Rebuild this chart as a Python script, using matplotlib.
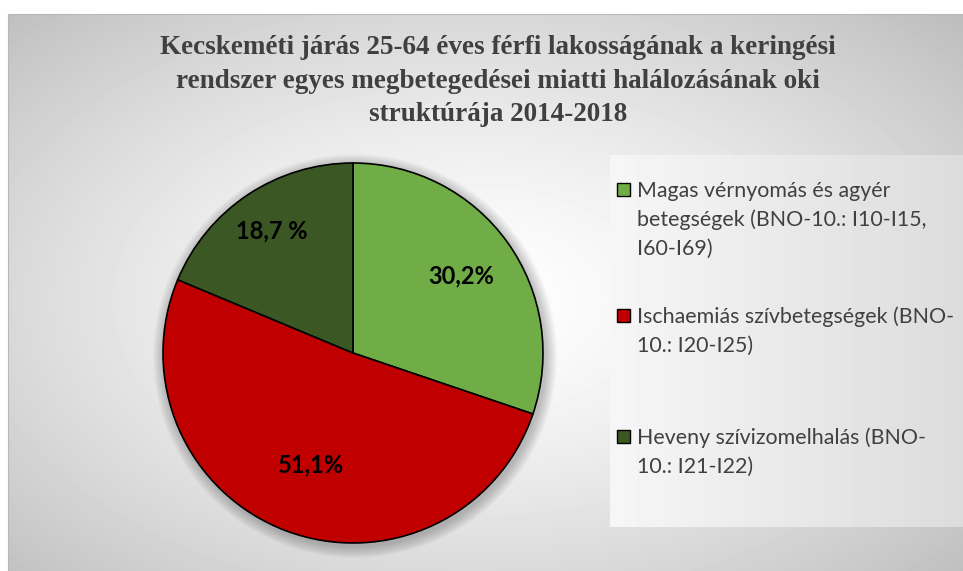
import numpy as np
import matplotlib
matplotlib.use('Agg')
import matplotlib.pyplot as plt
from matplotlib.patches import Circle, Rectangle

# data
labels = ['Magas vérnyomás és agyér\nbetegségek (BNO-10.: I10-I15,\nI60-I69)',
          'Ischaemiás szívbetegségek (BNO-\n10.: I20-I25)',
          'Heveny szívizomelhalás (BNO-\n10.: I21-I22)']
values = [30.2, 51.1, 18.7]
pct_labels = ['30,2%', '51,1%', '18,7 %']
colors = ['#70ad47', '#c00000', '#3a5724']
title = ('Kecskeméti járás 25-64 éves férfi lakosságának a keringési\n'
         'rendszer egyes megbetegedései miatti halálozásának oki\n'
         'struktúrája 2014-2018')

W, H = 963, 571
fig = plt.figure(figsize=(W / 100, H / 100), dpi=100)
fig.patch.set_facecolor('white')

# background axes in pixel coords
bg = fig.add_axes([0, 0, 1, 1], zorder=-1)
bg.set_xlim(0, W); bg.set_ylim(H, 0); bg.axis('off')
x0, y0 = 8, 14
xx, yy = np.meshgrid(np.arange(x0, W), np.arange(y0, H))
d = np.sqrt(((xx - 470) / 480.0) ** 2 + ((yy - 300) / 290.0) ** 2) / np.sqrt(2)
grad = 255 - 66 * np.clip(d, 0, 1) ** 1.4
bg.imshow(grad, cmap='gray', vmin=0, vmax=255, extent=[x0, W, H, y0],
          interpolation='bilinear', aspect='auto')
bg.plot([x0, W], [y0, y0], color='#b8b8b8', lw=0.8)
bg.plot([x0, x0], [y0, H], color='#b8b8b8', lw=0.8)

# legend panel
lx0, lx1, ly0, ly1 = 610, W, 155, 527
lg = np.tile(np.linspace(246, 220, lx1 - lx0), (ly1 - ly0, 1))
bg.imshow(lg, cmap='gray', vmin=0, vmax=255, extent=[lx0, lx1, ly1, ly0],
          interpolation='bilinear', aspect='auto')

# pie shadow
cx, cy, R = 353, 353, 190
for k in range(12, 0, -1):
    bg.add_patch(Circle((cx + 2, cy + 3), R + k, color='black', alpha=0.018, lw=0))
bg.set_xlim(0, W); bg.set_ylim(H, 0)

# pie
ax = fig.add_axes([(cx - R) / W, (H - cy - R) / H, 2 * R / W, 2 * R / H])
ax.patch.set_alpha(0)
wedges, texts = ax.pie(values, colors=colors, startangle=90, counterclock=False,
                       radius=1, wedgeprops=dict(edgecolor='black', linewidth=1.2))
ax.set_xlim(-1, 1); ax.set_ylim(-1, 1)
dists = [0.70, 0.63, 0.77]
for w, lab, dd in zip(wedges, pct_labels, dists):
    ang = np.deg2rad((w.theta1 + w.theta2) / 2)
    ax.text(dd * np.cos(ang), dd * np.sin(ang), lab, ha='center', va='center',
            fontsize=17, fontweight='bold', family='Lato', color='black')

# title
fig.text(498 / W, 1 - 35 / H, title, ha='center', va='top', fontsize=19.5,
         fontweight='bold', family='Liberation Serif', color='#404040', linespacing=1.45)

# legend
first_base = [197, 323, 444]
for lab, col, yb in zip(labels, colors, first_base):
    bg.add_patch(Rectangle((617, yb - 14), 13, 13, facecolor=col, edgecolor='black', lw=1))
    for i, line in enumerate(lab.split('\n')):
        bg.text(637, yb + 29 * i, line, ha='left', va='baseline', fontsize=15.4,
                family='Lato', color='#404040')

fig.savefig('out.png', dpi=100)
